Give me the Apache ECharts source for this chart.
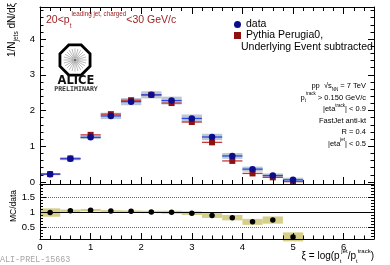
<!DOCTYPE html>
<html><head><meta charset="utf-8">
<script src="https://cdn.jsdelivr.net/npm/echarts@6/dist/echarts.min.js"></script>
<style>html,body{margin:0;padding:0;background:#fff}#c{width:390px;height:265px}</style>
</head><body><div id="c"></div>
<script>
// ---- data ----
const xiBins = [0.2, 0.6, 1.0, 1.4, 1.8, 2.2, 2.6, 3.0, 3.4, 3.8, 4.2, 4.6, 5.0];
const binHalfWidth = 0.2;
const dataVals = [0.22, 0.65, 1.25, 1.85, 2.25, 2.44, 2.28, 1.78, 1.26, 0.73, 0.36, 0.18, 0.06];
const dataSys  = [0.03, 0.04, 0.05, 0.09, 0.10, 0.10, 0.11, 0.11, 0.09, 0.08, 0.07, 0.06, 0.06];
const mcVals   = [0.22, 0.66, 1.32, 1.90, 2.29, 2.44, 2.21, 1.68, 1.11, 0.59, 0.24, 0.13, 0.01];
const ratioVals = [0.99, 1.05, 1.07, 1.04, 1.03, 1.01, 1.00, 0.97, 0.89, 0.82, 0.68, 0.74, 0.18];
const ratioSys  = [0.14, 0.04, 0.04, 0.03, 0.03, 0.04, 0.05, 0.06, 0.08, 0.09, 0.10, 0.12, 0.15];
const xTickLabels = [0, 1, 2, 3, 4, 5, 6];
const yTickLabels = [0, 1, 2, 3, 4];
const ratioTickLabels = [0.5, 1, 1.5];
const ratioRefLines = [0.5, 1, 1.5];

const FONT = 'Liberation Sans, Arial, Helvetica, sans-serif';
const X_MIN = 0, X_MAX = 6.6;
const Y_MIN = -0.056, Y_MAX = 4.9;
const R_MIN = 0.11, R_MAX = 1.94;

function steps(a, b, s) { const out = []; for (let v = a; v <= b + 1e-9; v += s) out.push(Math.round(v * 1000) / 1000); return out; }
const xMinor = steps(0, 6.6, 0.2);
const yMinor = steps(0, 4.8, 0.2);
const rMinor = steps(0.2, 1.9, 0.1);

function ax(gridIndex, position, min, max, tickVals, tickLen, lineShow, labelVals, labelExtra) {
  return {
    type: 'value', gridIndex, position, min, max,
    axisLine: { show: lineShow, onZero: false, lineStyle: { color: '#000', width: 1 } },
    axisTick: { show: true, inside: true, length: tickLen, customValues: tickVals, lineStyle: { color: '#000', width: 1 } },
    axisLabel: labelVals ? Object.assign({ show: true, customValues: labelVals, color: '#000', fontFamily: FONT, fontSize: 9.5 }, labelExtra || {}) : { show: false },
    splitLine: { show: false }, minorTick: { show: false }, minorSplitLine: { show: false },
    z: 5
  };
}

function boxRender(color) {
  return function (params, api) {
    const x = api.value(0), y = api.value(1), e = api.value(2);
    const p1 = api.coord([x - binHalfWidth, y + e]);
    const p2 = api.coord([x + binHalfWidth, y - e]);
    return { type: 'rect', shape: { x: p1[0], y: p1[1], width: p2[0] - p1[0], height: p2[1] - p1[1] }, style: { fill: color } };
  };
}
function hRender(color) {
  return function (params, api) {
    const x = api.value(0), y = api.value(1);
    const a = api.coord([x - binHalfWidth, y]), b = api.coord([x + binHalfWidth, y]);
    return { type: 'line', shape: { x1: a[0], y1: a[1], x2: b[0], y2: b[1] }, style: { stroke: color, lineWidth: 1.3 } };
  };
}

const dataPts = xiBins.map((x, i) => [x, dataVals[i]]);
const dataBox = xiBins.map((x, i) => [x, dataVals[i], dataSys[i]]);
const mcPts = xiBins.map((x, i) => [x, mcVals[i]]);
const ratioPts = xiBins.map((x, i) => [x, ratioVals[i]]);
const ratioBox = xiBins.map((x, i) => [x, ratioVals[i], ratioSys[i]]);

function richStyles(size, color, lh, supSize, supLH, subLH) {
  return {
    m: { fontSize: size, lineHeight: lh, fontFamily: FONT, fill: color, color: color },
    sup: { fontSize: supSize, lineHeight: supLH, verticalAlign: 'top', fontFamily: FONT, fill: color, color: color },
    sub: { fontSize: supSize, lineHeight: subLH, verticalAlign: 'bottom', fontFamily: FONT, fill: color, color: color }
  };
}
function txt(x, y, text, align, rich, extra) {
  return Object.assign({
    type: 'text', x, y, z: 20,
    style: { text, rich, align, verticalAlign: 'middle', textAlign: align, textVerticalAlign: 'middle', fontFamily: FONT }
  }, extra || {});
}

// ALICE logo
function octagon(r) { const p = []; for (let k = 0; k < 8; k++) { const a = (22.5 + 45 * k) * Math.PI / 180; p.push([r * Math.cos(a), r * Math.sin(a)]); } return p; }
const logoChildren = [{ type: 'polygon', shape: { points: octagon(16.3) }, style: { fill: '#fff', stroke: '#000', lineWidth: 2.8 } }];
for (let k = 0; k < 24; k++) {
  const a = k * 15 * Math.PI / 180;
  logoChildren.push({ type: 'line', shape: { x1: 2 * Math.cos(a), y1: 2 * Math.sin(a), x2: 11.5 * Math.cos(a), y2: 11.5 * Math.sin(a) }, style: { stroke: '#8a8a8a', lineWidth: 0.6 } });
}
logoChildren.push({ type: 'circle', shape: { cx: 0, cy: 0, r: 1.6 }, style: { fill: '#666' } });

const red = '#9b1c1c';
const graphics = [
  { type: 'group', x: 75, y: 60, z: 20, children: logoChildren },
  { type: 'text', x: 76, y: 81, z: 20, style: { text: 'ALICE', fontSize: 11.5, fontWeight: 'bold', fontFamily: 'DejaVu Sans, sans-serif', fill: '#111', align: 'center', verticalAlign: 'middle', textAlign: 'center', textVerticalAlign: 'middle' } },
  { type: 'text', x: 76, y: 89.5, z: 20, style: { text: 'PRELIMINARY', fontSize: 6.6, fontWeight: 'bold', fontFamily: 'DejaVu Sans Mono, monospace', fill: '#333', align: 'center', verticalAlign: 'middle', textAlign: 'center', textVerticalAlign: 'middle' } },
  txt(46, 20, '{m|20<p}{sub|t}{sup|leading jet, charged}{m|<30 GeV/c}', 'left', richStyles(10.5, red, 18, 6.3, 7, 9)),
  txt(241, 46.7, '{m|Underlying Event subtracted}', 'left', richStyles(10.5, '#000', 12, 6, 6, 6)),
  txt(366, 86, '{m|pp  √s}{sub|NN}{m| = 7 TeV}', 'right', richStyles(7.5, '#000', 12, 4.5, 5, 6)),
  txt(366, 97.5, '{m|p}{sub|t}{sup|track}{m| > 0.150 GeV/c}', 'right', richStyles(7.5, '#000', 12, 4.5, 5, 6)),
  txt(366, 109, '{m||eta}{sup|track}{m|| < 0.9}', 'right', richStyles(7.5, '#000', 12, 4.5, 5, 6)),
  txt(366, 120.5, '{m|FastJet anti-kt}', 'right', richStyles(7.5, '#000', 12, 4.5, 5, 6)),
  txt(366, 132, '{m|R = 0.4}', 'right', richStyles(7.5, '#000', 12, 4.5, 5, 6)),
  txt(366, 143.5, '{m||eta}{sup|jet}{m|| < 0.5}', 'right', richStyles(7.5, '#000', 12, 4.5, 5, 6)),
  txt(374, 256, '{m|ξ = log(p}{sub|t}{sup|jet}{m|/p}{sub|t}{sup|track}{m|)}', 'right', richStyles(10, '#000', 16, 6, 6, 8)),
  txt(12.5, 30, '{m|1/N}{sub|jets}{m| dN/dξ}', 'center', richStyles(10, '#000', 14, 6.5, 6, 7), { rotation: Math.PI / 2 }),
  txt(14, 206, '{m|MC/data}', 'center', richStyles(8.5, '#000', 12, 5, 5, 5), { rotation: Math.PI / 2 }),
  { type: 'text', x: 0, y: 260, z: 20, style: { text: 'ALI-PREL-15663', fontSize: 8.4, fontFamily: 'Liberation Mono, DejaVu Sans Mono, monospace', fill: '#a5a5a5', align: 'left', verticalAlign: 'middle', textAlign: 'left', textVerticalAlign: 'middle' } }
];

const chart = echarts.init(document.getElementById('c'), null, { renderer: 'canvas' });
chart.setOption({
  animation: false,
  backgroundColor: '#fff',
  grid: [
    { left: 40, top: 7, width: 334, height: 177, show: false },
    { left: 40, top: 184, width: 334, height: 55, show: false }
  ],
  xAxis: [
    ax(0, 'bottom', X_MIN, X_MAX, xTickLabels, 7, true, null),
    ax(0, 'top', X_MIN, X_MAX, xTickLabels, 7, true, null),
    ax(0, 'bottom', X_MIN, X_MAX, xMinor, 4, false, null),
    ax(0, 'top', X_MIN, X_MAX, xMinor, 4, false, null),
    ax(1, 'bottom', X_MIN, X_MAX, xTickLabels, 6, true, xTickLabels, { margin: 3 }),
    ax(1, 'bottom', X_MIN, X_MAX, xMinor, 3.5, false, null)
  ],
  yAxis: [
    ax(0, 'left', Y_MIN, Y_MAX, yTickLabels, 6, true, yTickLabels, { margin: 5 }),
    ax(0, 'right', Y_MIN, Y_MAX, yTickLabels, 6, true, null),
    ax(0, 'left', Y_MIN, Y_MAX, yMinor, 3.5, false, null),
    ax(0, 'right', Y_MIN, Y_MAX, yMinor, 3.5, false, null),
    ax(1, 'left', R_MIN, R_MAX, ratioTickLabels, 6, true, ratioTickLabels, { margin: 5 }),
    ax(1, 'right', R_MIN, R_MAX, ratioTickLabels, 6, true, null),
    ax(1, 'left', R_MIN, R_MAX, rMinor, 3, false, null),
    ax(1, 'right', R_MIN, R_MAX, rMinor, 3, false, null)
  ],
  legend: {
    left: 229, top: 14, orient: 'vertical', itemWidth: 7, itemHeight: 7, itemGap: 0,
    textStyle: { fontSize: 10.5, fontFamily: FONT, color: '#000', lineHeight: 11 },
    data: [{ name: 'data', icon: 'circle' }, { name: 'Pythia Perugia0,', icon: 'rect' }],
    selectedMode: false
  },
  series: [
    { type: 'custom', name: 'dataSys', xAxisIndex: 0, yAxisIndex: 0, renderItem: boxRender('#b9c8d2'), data: dataBox, z: 1, silent: true },
    { type: 'custom', name: 'mcErr', xAxisIndex: 0, yAxisIndex: 0, renderItem: hRender('#c8383a'), data: mcPts, z: 2, silent: true },
    { type: 'custom', name: 'dataErr', xAxisIndex: 0, yAxisIndex: 0, renderItem: hRender('#2d48e6'), data: dataPts, z: 3, silent: true },
    { type: 'scatter', name: 'Pythia Perugia0,', xAxisIndex: 0, yAxisIndex: 0, symbol: 'rect', symbolSize: 6, itemStyle: { color: '#8e1010', opacity: 1 }, data: mcPts, z: 4 },
    { type: 'scatter', name: 'data', xAxisIndex: 0, yAxisIndex: 0, symbol: 'circle', symbolSize: 6.5, itemStyle: { color: '#0c0c8e', opacity: 1 }, data: dataPts, z: 5 },
    { type: 'custom', name: 'ratioSys', xAxisIndex: 4, yAxisIndex: 4, renderItem: boxRender('#d6cf8a'), data: ratioBox, z: 1, silent: true },
    {
      type: 'scatter', name: 'ratio', xAxisIndex: 4, yAxisIndex: 4, symbol: 'circle', symbolSize: 5.5,
      itemStyle: { color: '#000', opacity: 1 }, data: ratioPts, z: 6,
      markLine: {
        silent: true, symbol: ['none', 'none'], label: { show: false }, z: 3,
        data: ratioRefLines.map(v => ({ yAxis: v, lineStyle: v === 1 ? { color: '#000', type: 'solid', width: 1 } : { color: '#666', type: 'dotted', width: 1 } }))
      }
    }
  ],
  graphic: graphics
});
</script></body></html>
